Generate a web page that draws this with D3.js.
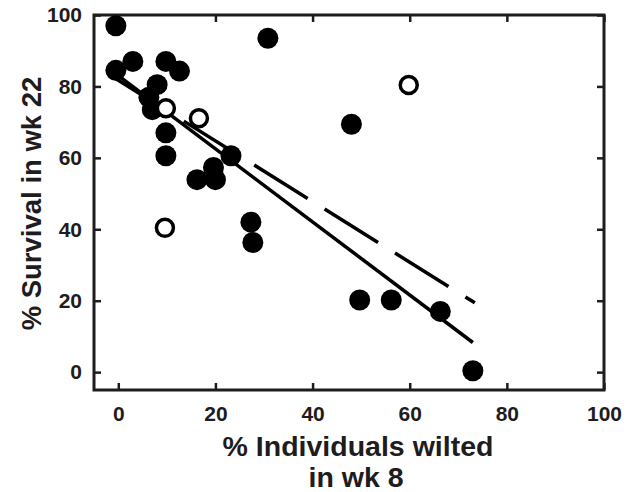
<!DOCTYPE html>
<html>
<head>
<meta charset="utf-8">
<script src="https://cdn.jsdelivr.net/npm/d3@7"></script>
<style>
  body { margin: 0; background: #fff; }
  text { font-family: "Liberation Sans", Arial, Helvetica, sans-serif; font-weight: bold; fill: #1e1c1d; }
</style>
</head>
<body>
<script>
// filled circles
var filledX = [-0.5, -0.5, 3, 9.8, 12.6, 8, 6.3, 7, 9.8, 9.8, 23.2, 19.6, 16.2, 20, 30.8, 27.3, 27.7, 49.7, 56.2, 66.3, 73, 48];
var filledY = [97, 84.5, 87, 87, 84.3, 80.5, 77, 73.5, 67, 60.6, 60.6, 57.3, 53.9, 53.9, 93.5, 42, 36.3, 20.2, 20.2, 17, 0.4, 69.4];
// open circles
var openX = [9.8, 16.6, 9.6, 59.8];
var openY = [73.9, 71.1, 40.4, 80.4];
// regression lines (end points)
var solidX = [0, 73];
var solidY = [83, 8.3];
var dashX = [-1, 73.4];
var dashY = [82.6, 19.4];

var xTicks = [0, 20, 40, 60, 80, 100];
var yTicks = [0, 20, 40, 60, 80, 100];

var svgWidth = 637, svgHeight = 492;
var margin = { top: 15, right: 33, bottom: 102, left: 94 };
var width = svgWidth - margin.left - margin.right;
var height = svgHeight - margin.top - margin.bottom;

var svg = d3.select("body").append("svg")
  .attr("width", svgWidth)
  .attr("height", svgHeight);

var g = svg.append("g")
  .attr("transform", "translate(" + margin.left + "," + margin.top + ")");

var x = d3.scaleLinear().domain([-5, 100]).range([0, width]);
var y = d3.scaleLinear().domain([-5, 100]).range([height, 0]);

function styleAxis(sel) {
  sel.select(".domain").remove();
  sel.selectAll(".tick line").attr("stroke", "#1e1c1d").attr("stroke-width", 2.5);
  sel.selectAll(".tick text").style("font-size", "21px").attr("fill", "#1e1c1d");
}

g.append("g")
  .attr("transform", "translate(0," + height + ")")
  .call(d3.axisBottom(x).tickValues(xTicks).tickSize(-7).tickSizeOuter(0).tickPadding(16))
  .call(styleAxis);
g.append("g")
  .call(d3.axisTop(x).tickValues(xTicks).tickSize(-7).tickSizeOuter(0).tickFormat(""))
  .call(styleAxis);
g.append("g")
  .call(d3.axisLeft(y).tickValues(yTicks).tickSize(-7).tickSizeOuter(0).tickPadding(12))
  .call(styleAxis);
g.append("g")
  .attr("transform", "translate(" + width + ",0)")
  .call(d3.axisRight(y).tickValues(yTicks).tickSize(-7).tickSizeOuter(0).tickFormat(""))
  .call(styleAxis);

// frame
g.append("rect")
  .attr("width", width).attr("height", height)
  .attr("fill", "none").attr("stroke", "#1e1c1d").attr("stroke-width", 3);

var line = d3.line().x(function(d) { return x(d[0]); }).y(function(d) { return y(d[1]); });

g.append("path")
  .datum(d3.zip(dashX, dashY))
  .attr("d", line)
  .attr("fill", "none").attr("stroke", "#000").attr("stroke-width", 3.5)
  .attr("stroke-dasharray", "63,20");

g.append("path")
  .datum(d3.zip(solidX, solidY))
  .attr("d", line)
  .attr("fill", "none").attr("stroke", "#000").attr("stroke-width", 3.5);

g.selectAll("circle.filled")
  .data(d3.zip(filledX, filledY))
  .enter().append("circle")
  .attr("class", "filled")
  .attr("cx", function(d) { return x(d[0]); })
  .attr("cy", function(d) { return y(d[1]); })
  .attr("r", 10.5)
  .attr("fill", "#000");

g.selectAll("circle.open")
  .data(d3.zip(openX, openY))
  .enter().append("circle")
  .attr("class", "open")
  .attr("cx", function(d) { return x(d[0]); })
  .attr("cy", function(d) { return y(d[1]); })
  .attr("r", 8.5)
  .attr("fill", "#fff")
  .attr("stroke", "#000")
  .attr("stroke-width", 3.5);

// axis titles
svg.append("text")
  .attr("x", 358).attr("y", 455.5)
  .attr("text-anchor", "middle")
  .style("font-size", "28.5px")
  .text("% Individuals wilted");
svg.append("text")
  .attr("x", 356).attr("y", 486.5)
  .attr("text-anchor", "middle")
  .style("font-size", "28.5px")
  .text("in wk 8");
svg.append("text")
  .attr("transform", "translate(41," + (margin.top + height / 2 + 1) + ") rotate(-90)")
  .attr("text-anchor", "middle")
  .style("font-size", "27.5px")
  .text("% Survival in wk 22");
</script>
</body>
</html>
